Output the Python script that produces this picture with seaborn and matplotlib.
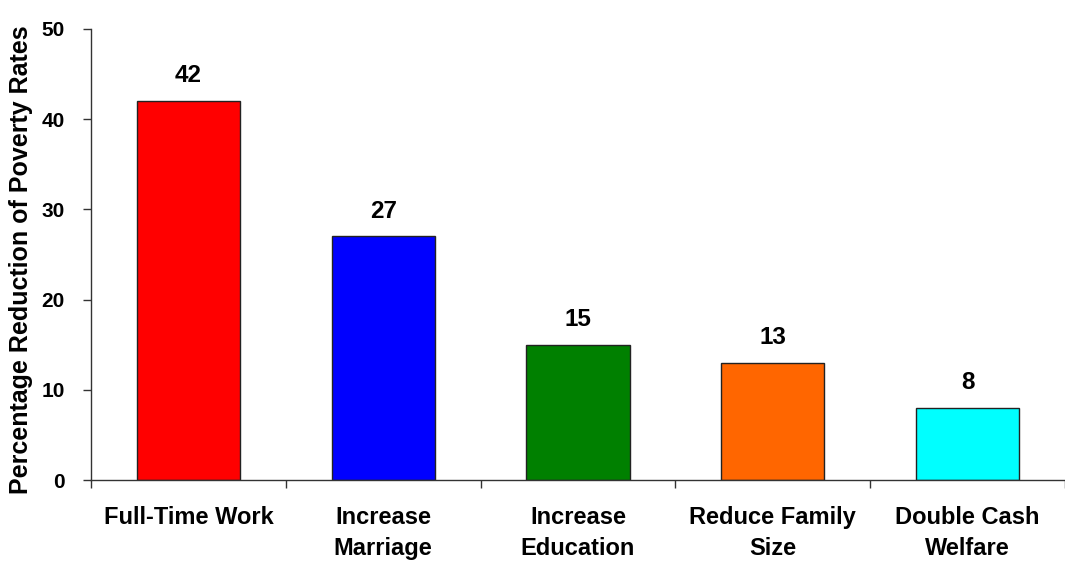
import matplotlib
matplotlib.use("Agg")
import matplotlib.pyplot as plt
import seaborn as sns
import pandas as pd
import numpy as np

categories = ["Full-Time Work", "Increase\nMarriage", "Increase\nEducation", "Reduce Family\nSize", "Double Cash\nWelfare"]
values = [42, 27, 15, 13, 8]
colors = ["#FF0000", "#0000FF", "#008000", "#FF6600", "#00FFFF"]
yticks = [0, 10, 20, 30, 40, 50]
ylabel = "Percentage Reduction of Poverty Rates"

sns.set_theme(style="white")
plt.rcParams["font.family"] = ["Liberation Sans", "DejaVu Sans"]
plt.rcParams["font.weight"] = "bold"
plt.rcParams["text.color"] = "black"
plt.rcParams["axes.labelcolor"] = "black"
plt.rcParams["xtick.color"] = "black"
plt.rcParams["ytick.color"] = "black"

fig = plt.figure(figsize=(10.65, 5.63), dpi=100)
ax = fig.add_axes([91/1065, 1-480/563, 1-91/1065, (480-29)/563])

df = pd.DataFrame({"cat": categories, "val": values})
sns.barplot(data=df, x="cat", y="val", hue="cat", palette=colors, legend=False,
            width=0.53, edgecolor="#222222", linewidth=1.0, ax=ax, saturation=1)

for i, v in enumerate(values):
    ax.annotate(str(v), (i, v), xytext=(0, 10), textcoords="offset points",
                ha="center", va="bottom", fontsize=17.5, fontweight="bold", color="black")

ax.set_ylim(0, 50)
ax.set_xlim(-0.5, len(categories) - 0.5)
ax.set_yticks(yticks)
ax.set_yticklabels([str(t) for t in yticks], fontsize=15, fontweight="bold")
ax.set_xticks(range(len(categories)))
ax.set_xticklabels(categories, fontsize=17, fontweight="bold", linespacing=1.4)
ax.set_xticks(np.arange(-0.5, len(categories) + 0.5, 1.0), minor=True)
ax.tick_params(axis="x", which="major", length=0, pad=19)
ax.tick_params(axis="x", which="minor", length=6, width=1, color="#333333", direction="out", bottom=True)
ax.tick_params(axis="y", length=6, width=1, color="#333333", direction="out", left=True, pad=13)
ax.set_xlabel("")
ax.set_ylabel(ylabel, fontsize=18, fontweight="bold", labelpad=6, y=0.488)

for s in ["top", "right"]:
    ax.spines[s].set_visible(False)
for s in ["left", "bottom"]:
    ax.spines[s].set_color("#333333")
    ax.spines[s].set_linewidth(1.0)

fig.savefig("out.png", dpi=100, facecolor="white")
